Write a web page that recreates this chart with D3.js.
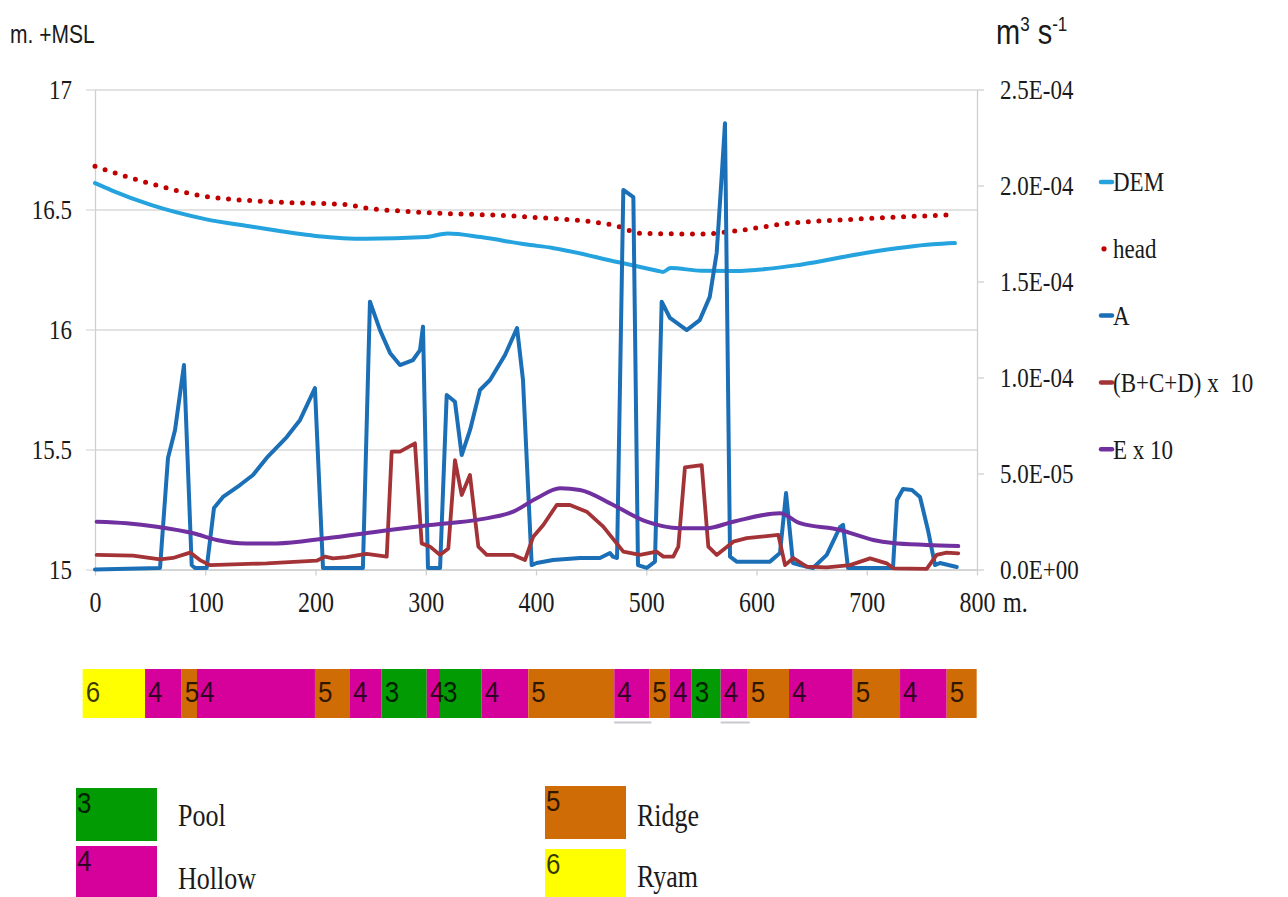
<!DOCTYPE html>
<html><head><meta charset="utf-8">
<script src="https://cdn.jsdelivr.net/npm/d3@7"></script>
<style>
html,body{margin:0;padding:0;background:#fff;}
svg{display:block;}
.t{transform-box:fill-box;transform-origin:center;transform:scaleY(1.2);}
.ts{transform-box:fill-box;transform-origin:center;transform:scaleY(1.12);}
</style></head>
<body><svg id="c" width="1288" height="897"></svg>
<script>
// ---------- data (distance in m, value) ----------
const demPts = [[0,16.61],[15,16.58],[50,16.52],[100,16.46],[140,16.43],[200,16.39],[245,16.378],[300,16.385],[320,16.40],[350,16.385],[390,16.355],[415,16.34],[475,16.28],[510,16.245],[515,16.24],[522,16.256],[550,16.245],[580,16.244],[640,16.27],[700,16.32],[760,16.355],[780,16.36]];
const headPts = [[0,16.68],[45,16.615],[100,16.555],[170,16.53],[230,16.52],[240,16.51],[290,16.49],[390,16.47],[470,16.435],[497,16.40],[550,16.398],[580,16.41],[625,16.44],[690,16.46],[780,16.478]];
const aPts = [[0,0],[59,0.08e-5],[66.2,5.81e-5],[72.6,7.27e-5],[80.7,10.65e-5],[87.7,0.23e-5],[90.7,0.08e-5],[101.3,0.08e-5],[107.9,3.2e-5],[116.1,3.78e-5],[131.5,4.4e-5],[143.3,4.92e-5],[155.7,5.81e-5],[173.9,6.9e-5],[186,7.79e-5],[199.5,9.45e-5],[206.8,0.08e-5],[243,0.08e-5],[249.4,13.95e-5],[258.5,12.47e-5],[267.6,11.28e-5],[276.6,10.65e-5],[288.4,10.91e-5],[294.8,11.43e-5],[297.5,12.65e-5],[302,0.08e-5],[313,0.08e-5],[319,9.09e-5],[326.5,8.74e-5],[332.6,5.96e-5],[340.2,7.27e-5],[349.2,9.35e-5],[358.3,9.87e-5],[371.9,11.17e-5],[382.8,12.58e-5],[388.2,9.87e-5],[396.1,0.23e-5],[400.6,0.34e-5],[415.4,0.49e-5],[439.9,0.6e-5],[458,0.6e-5],[467.1,0.86e-5],[469.8,0.67e-5],[473.5,0.6e-5],[479.2,19.77e-5],[488.3,19.4e-5],[492.5,0.23e-5],[500.4,0.08e-5],[507.9,0.41e-5],[514,13.95e-5],[521.5,13.1e-5],[536.7,12.47e-5],[548.5,12.99e-5],[557.6,14.2e-5],[563.9,16.5e-5],[568.4,20.46e-5],[571.4,23.24e-5],[576,0.67e-5],[582,0.41e-5],[612.2,0.41e-5],[621.3,0.86e-5],[626.8,3.98e-5],[633.1,0.34e-5],[639.5,0.23e-5],[651.2,0.08e-5],[663.7,0.76e-5],[675.7,2.21e-5],[678.5,2.32e-5],[683,0.08e-5],[723.8,0.08e-5],[727.4,3.62e-5],[732.9,4.19e-5],[741,4.14e-5],[748.3,3.78e-5],[755.5,2.06e-5],[761.9,0.23e-5],[766.4,0.34e-5],[781.6,0.13e-5]];
const bcdPts = [[1.5,0.76e-5],[34.5,0.72e-5],[59,0.53e-5],[70.7,0.6e-5],[86.2,0.88e-5],[95.2,0.49e-5],[104.3,0.23e-5],[155.7,0.32e-5],[201.1,0.46e-5],[208.6,0.67e-5],[215.9,0.58e-5],[228.3,0.64e-5],[240.4,0.76e-5],[246.4,0.81e-5],[264.6,0.67e-5],[269.1,6.14e-5],[276.6,6.14e-5],[290.2,6.57e-5],[296.3,1.36e-5],[303.9,1.19e-5],[312.9,0.76e-5],[320.5,1.1e-5],[326.5,5.7e-5],[332.6,3.88e-5],[340.1,4.92e-5],[347.7,1.19e-5],[355.3,0.76e-5],[379.4,0.76e-5],[390,0.49e-5],[397.5,1.71e-5],[406.6,2.32e-5],[418.8,3.36e-5],[430.8,3.36e-5],[446,3.01e-5],[461,2.23e-5],[479.2,0.93e-5],[494.3,0.76e-5],[509.5,0.93e-5],[515.5,0.67e-5],[524.5,0.67e-5],[529.1,1.19e-5],[535.1,5.32e-5],[550.3,5.44e-5],[556.3,1.19e-5],[563.9,0.76e-5],[579,1.45e-5],[591.1,1.63e-5],[619.8,1.8e-5],[625.9,0.23e-5],[633.4,0.6e-5],[645.5,0.15e-5],[663.7,0.11e-5],[684.8,0.23e-5],[703,0.58e-5],[718.1,0.32e-5],[724.1,0.06e-5],[754.4,0.03e-5],[763.4,0.76e-5],[772.5,0.88e-5],[783,0.84e-5]];
const ePts = [[1.5,2.49e-5],[28.8,2.41e-5],[56,2.23e-5],[89.2,1.89e-5],[110.4,1.54e-5],[137.6,1.36e-5],[164.8,1.36e-5],[210.2,1.63e-5],[255.5,1.97e-5],[303.9,2.32e-5],[349.2,2.61e-5],[379.4,3.01e-5],[400.6,3.71e-5],[421.8,4.23e-5],[439.9,4.14e-5],[470.1,3.36e-5],[500.4,2.49e-5],[530.6,2.15e-5],[554.8,2.15e-5],[578.9,2.49e-5],[621.3,2.93e-5],[639.5,2.41e-5],[675.7,2.06e-5],[705.9,1.54e-5],[723.8,1.38e-5],[754.4,1.28e-5],[783,1.22e-5]];

const seriesNames = ["DEM","head","A","(B+C+D) x\u00a0\u00a010","E x 10"];
const xTicks = [0,100,200,300,400,500,600,700,800];
const yLeftTicks = [15,15.5,16,16.5,17];
const yRightTicks = [0,5e-5,1e-4,1.5e-4,2e-4,2.5e-4];

// land-unit strip along the transect (m)
const zoneBounds = [-11.2,45.4,78.6,92.5,199.5,231.3,260,300.9,312.9,350.7,393,471,502.8,521.5,541.2,567.5,592,629.5,687.3,730.2,772.5,799.7];
const zoneTypes = [6,4,5,4,5,4,3,4,3,4,5,4,5,4,3,4,5,4,5,4,5];
const zoneUnderlined = [11,15];
const legendCodes = [3,4,5,6];
const legendNames = ["Pool","Hollow","Ridge","Ryam"];

// ---------- styles ----------
const colDEM="#25a3df", colHead="#c00000", colA="#1b6fb6", colBCD="#a33336", colE="#7030a0";
const zoneColor = {3:"#039b03",4:"#d6009a",5:"#d06c06",6:"#ffff00"};
const serif="'Liberation Serif','Times New Roman',serif";
const sans="'Liberation Sans',Arial,sans-serif";

const svg = d3.select("#c");
const x = d3.scaleLinear([0,800],[95,977]);
const yL = d3.scaleLinear([15,17],[569.5,89.5]);
const yR = d3.scaleLinear([0,2.5e-4],[569.5,89.5]);

function fmtE(v){
  if(v===0) return "0.0E+00";
  const [m,e]=v.toExponential(1).split("e");
  return m+"E"+e[0]+e.slice(1).padStart(2,"0");
}
function serifText(sel,size){
  sel.attr("class","t").style("font-family",serif).style("font-size",size+"px").attr("fill","#1a1a1a");
}

// gridlines
svg.append("g").attr("transform","translate(95,0)")
  .call(d3.axisLeft(yL).tickValues(yLeftTicks).tickSize(-(977-95)).tickFormat(""))
  .call(g=>g.select(".domain").remove())
  .call(g=>g.selectAll("line").attr("stroke","#d9d9d9").attr("stroke-width",1.3));

// left axis
const gl = svg.append("g").attr("transform","translate(95,0)")
  .call(d3.axisLeft(yL).tickValues(yLeftTicks).tickSize(9).tickSizeOuter(0).tickPadding(14).tickFormat(d3.format("")));
gl.select(".domain").attr("stroke","#cfcfcf").attr("stroke-width",1.3);
gl.selectAll("line").attr("stroke","#d9d9d9").attr("stroke-width",1.3);
serifText(gl.selectAll("text"),23);

// right axis
const gr = svg.append("g").attr("transform","translate(977,0)")
  .call(d3.axisRight(yR).tickValues(yRightTicks).tickSize(7).tickSizeOuter(0).tickPadding(16).tickFormat(fmtE));
gr.select(".domain").attr("stroke","#cfcfcf").attr("stroke-width",1.3);
gr.selectAll("line").attr("stroke","#d0d0d0").attr("stroke-width",1.3);
serifText(gr.selectAll("text"),23);

// bottom axis
const gb = svg.append("g").attr("transform","translate(0,569.5)")
  .call(d3.axisBottom(x).tickValues(xTicks).tickSize(6).tickSizeOuter(0).tickPadding(18).tickFormat(d3.format("")));
gb.select(".domain").attr("stroke","#d0d0d0").attr("stroke-width",1.3);
gb.selectAll("line").attr("stroke","#d0d0d0").attr("stroke-width",1.3);
serifText(gb.selectAll("text"),24);
serifText(svg.append("text").attr("x",x(800)+26).attr("y",569.5+24+0.71*24).text("m."),24);

// axis titles
svg.append("text").attr("class","t").attr("x",10).attr("y",42).style("font-family",sans).style("font-size","21px").attr("fill","#1a1a1a").text("m. +MSL");
const rt = svg.append("text").attr("class","t").attr("x",996).attr("y",42).style("font-family",sans).style("font-size","29px").attr("fill","#1a1a1a");
rt.append("tspan").text("m");
rt.append("tspan").attr("dy",-11).style("font-size","17px").text("3");
rt.append("tspan").attr("dy",11).style("font-size","29px").text("\u00a0s");
rt.append("tspan").attr("dy",-11).style("font-size","17px").text("-1");

// lines
const lineR = d3.line().x(d=>x(d[0])).y(d=>yR(d[1]));
const lineRS = d3.line().x(d=>x(d[0])).y(d=>yR(d[1])).curve(d3.curveMonotoneX);
const lineLS = d3.line().x(d=>x(d[0])).y(d=>yL(d[1])).curve(d3.curveMonotoneX);

function draw(path, color, w, dash){
  const p = svg.append("path").attr("d",path).attr("fill","none").attr("stroke",color)
    .attr("stroke-width",w).attr("stroke-linejoin","round").attr("stroke-linecap","round");
  if(dash) p.attr("stroke-dasharray",dash);
}
draw(lineLS(demPts), colDEM, 4);
draw(lineLS(headPts), colHead, 5, "0,10.6");
draw(lineR(aPts), colA, 4);
draw(lineR(bcdPts), colBCD, 3.8);
draw(lineRS(ePts), colE, 4);

// legend (right)
const legColors = [colDEM,colHead,colA,colBCD,colE];
seriesNames.forEach((n,i)=>{
  const yy = 182 + i*66.8;
  if(i===1){
    svg.append("circle").attr("cx",1104).attr("cy",yy).attr("r",2.6).attr("fill",colHead);
  } else {
    svg.append("line").attr("x1",1101).attr("x2",1112).attr("y1",yy).attr("y2",yy)
      .attr("stroke",legColors[i]).attr("stroke-width",4.5).attr("stroke-linecap","round");
  }
  serifText(svg.append("text").attr("x",1113).attr("y",yy).attr("dy","0.34em").text(n),23);
});

// strip
const zones = zoneTypes.map((t,i)=>({t, a:zoneBounds[i], b:zoneBounds[i+1], i}));
const strip = svg.append("g");
strip.selectAll("rect").data(zones).join("rect")
  .attr("x",d=>x(d.a)).attr("width",d=>x(d.b)-x(d.a)).attr("y",669).attr("height",49)
  .attr("fill",d=>zoneColor[d.t]);
strip.selectAll("text").data(zones).join("text").attr("class","ts")
  .attr("x",d=>x(d.a)+3).attr("y",701).style("font-family",sans).style("font-size","26px")
  .attr("fill","#000").attr("fill-opacity",0.78).text(d=>d.t);
strip.selectAll("line").data(zones.filter(d=>zoneUnderlined.includes(d.i))).join("line")
  .attr("x1",d=>x(d.a)).attr("x2",d=>x(d.b)+2).attr("y1",722.5).attr("y2",722.5)
  .attr("stroke","#c8c8d0").attr("stroke-width",2);

// bottom legend
const legPos = [[76,788,178,824],[76,846,178,887],[545,786,637,824],[545,849,637,885]];
legendCodes.forEach((c,i)=>{
  const [sx,sy,tx,ty] = legPos[i];
  svg.append("rect").attr("x",sx).attr("y",sy).attr("width",81).attr("height",i%2? 897-sy : 53).attr("fill",zoneColor[c]);
  svg.append("text").attr("class","ts").attr("x",sx+1).attr("y",sy+24).style("font-family",sans).style("font-size","26px")
    .attr("fill","#000").attr("fill-opacity",0.78).text(c);
  serifText(svg.append("text").attr("x",tx).attr("y",ty).text(legendNames[i]),26);
});
</script></body></html>
